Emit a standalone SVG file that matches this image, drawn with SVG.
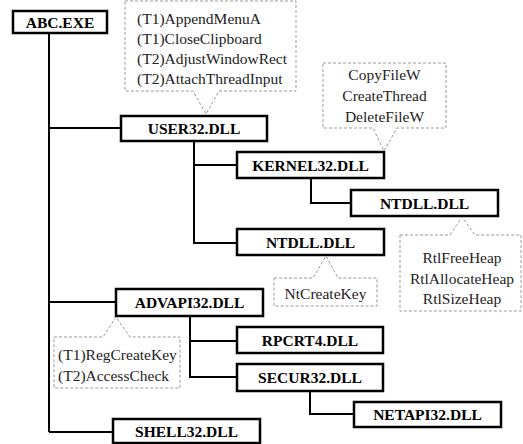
<svg xmlns="http://www.w3.org/2000/svg" width="523" height="444" viewBox="0 0 523 444">
<style>
.node rect{fill:#fff;stroke:#000;stroke-width:2.5}
.node text{font-family:"Liberation Serif",serif;font-weight:bold;font-size:15.5px;text-anchor:middle;fill:#000}
.conn path{fill:none;stroke:#000;stroke-width:2}
.call path{fill:#fff;stroke:#999;stroke-width:1;stroke-dasharray:3,2}
.call text{font-family:"Liberation Serif",serif;font-size:15.5px;fill:#222}
.mid{text-anchor:middle}
</style>
<rect width="523" height="444" fill="#fff"/>
<g id="connectors" class="conn">
<path d="M49,33 V432"/>
<path d="M49,128 H121"/>
<path d="M49,302 H116"/>
<path d="M49,432 H113"/>
<path d="M194,141 V243 H237"/>
<path d="M194,165 H237"/>
<path d="M311,178 V203 H351"/>
<path d="M190,316 V377 H237"/>
<path d="M190,341 H237"/>
<path d="M310,391 V414 H354"/>
</g>
<g id="abc" class="node"><rect x="13" y="11" width="94" height="22"/><text x="60" y="27.5">ABC.EXE</text></g>
<g id="user32" class="node"><rect x="121" y="116" width="146" height="25"/><text x="194" y="134">USER32.DLL</text></g>
<g id="kernel32" class="node"><rect x="237" y="152" width="147" height="26"/><text x="310.5" y="170.5">KERNEL32.DLL</text></g>
<g id="ntdll1" class="node"><rect x="351" y="190" width="147" height="26"/><text x="424.5" y="208.5">NTDLL.DLL</text></g>
<g id="ntdll2" class="node"><rect x="237" y="229" width="147" height="26"/><text x="310.5" y="247.5">NTDLL.DLL</text></g>
<g id="advapi32" class="node"><rect x="116" y="289" width="147" height="27"/><text x="189.5" y="308">ADVAPI32.DLL</text></g>
<g id="rpcrt4" class="node"><rect x="237" y="327" width="146" height="26"/><text x="310" y="345.5">RPCRT4.DLL</text></g>
<g id="secur32" class="node"><rect x="237" y="364" width="146" height="27"/><text x="310" y="383">SECUR32.DLL</text></g>
<g id="netapi32" class="node"><rect x="354" y="402" width="147" height="25"/><text x="427.5" y="420">NETAPI32.DLL</text></g>
<g id="shell32" class="node"><rect x="113" y="419" width="147" height="24"/><text x="186.5" y="436.5">SHELL32.DLL</text></g>
<g id="user32-apis" class="call">
<path d="M125,1 H296 V91 H219 L206,114 L193,91 H125 Z"/>
<text x="137" y="24">(T1)AppendMenuA</text>
<text x="137" y="44">(T1)CloseClipboard</text>
<text x="137" y="64">(T2)AdjustWindowRect</text>
<text x="137" y="84">(T2)AttachThreadInput</text>
</g>
<g id="kernel32-apis" class="call">
<path d="M323,63 H446 V128 H397 L384,151 L373,128 H323 Z"/>
<text class="mid" x="384.5" y="80">CopyFileW</text>
<text class="mid" x="384.5" y="101">CreateThread</text>
<text class="mid" x="384.5" y="122">DeleteFileW</text>
</g>
<g id="ntdll1-apis" class="call">
<path d="M400,235 H450 L462,217 L475,235 H521 V311 H400 Z"/>
<text class="mid" x="462" y="263">RtlFreeHeap</text>
<text class="mid" x="462" y="283.5">RtlAllocateHeap</text>
<text class="mid" x="462" y="304">RtlSizeHeap</text>
</g>
<g id="ntdll2-apis" class="call">
<path d="M274,278 H313 L326,256 L338,278 H377 V306 H274 Z"/>
<text class="mid" x="325.5" y="299">NtCreateKey</text>
</g>
<g id="advapi32-apis" class="call">
<path d="M54,337 H103 L116,317 L130,337 H180 V388 H54 Z"/>
<text x="58" y="360">(T1)RegCreateKey</text>
<text x="58" y="381">(T2)AccessCheck</text>
</g>
</svg>
